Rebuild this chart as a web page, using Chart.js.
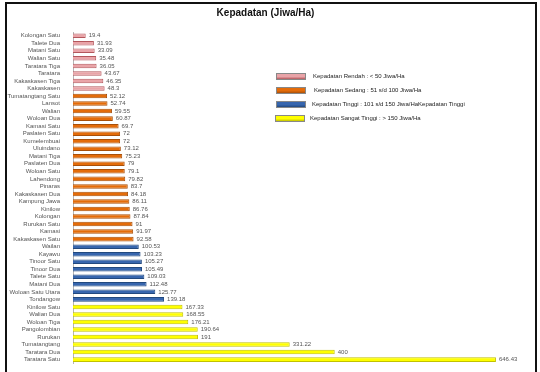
<!DOCTYPE html>
<html>
<head>
<meta charset="utf-8">
<script src="https://cdn.jsdelivr.net/npm/chart.js@4.4.1/dist/chart.umd.min.js"></script>
<style>
  html, body { margin: 0; padding: 0; background: #fff; }
  #wrap { position: relative; width: 540px; height: 372px; overflow: hidden; font-family: "Liberation Sans", Arial, sans-serif; }
  #frame { position: absolute; left: 5px; top: 2px; width: 532px; height: 380px; border: 2px solid #111; box-sizing: border-box; }
  canvas { position: absolute; left: 0; top: 0; }
  .sw { position: absolute; width: 30px; height: 7px; box-sizing: border-box; border: 1px solid #888; }
  .leg { position: absolute; font-size: 6px; color: #222; white-space: nowrap; line-height: 8px; }
</style>
</head>
<body>
<div id="wrap">
  <div id="frame"></div>
  <canvas id="chart" width="540" height="372"></canvas>
  <div id="legend"></div>
</div>
<script>
// Kelurahan names (top to bottom)
const kelurahan = [
  'Kolongan Satu', 'Talete Dua', 'Matani Satu', 'Walian Satu', 'Taratara Tiga',
  'Taratara', 'Kakaskasen Tiga', 'Kakaskasen', 'Tumatangtang Satu', 'Lansot',
  'Walian', 'Woloan Dua', 'Kamasi Satu', 'Paslaten Satu', 'Kumelembuai',
  'Uluindano', 'Matani Tiga', 'Paslaten Dua', 'Woloan Satu', 'Lahendong',
  'Pinaras', 'Kakaskasen Dua', 'Kampung Jawa', 'Kinilow', 'Kolongan',
  'Rurukan Satu', 'Kamasi', 'Kakaskasen Satu', 'Wailan', 'Kayawu',
  'Tinoor Satu', 'Tinoor Dua', 'Talete Satu', 'Matani Dua', 'Woloan Satu Utara',
  'Tondangow', 'Kinilow Satu', 'Walian Dua', 'Woloan Tiga', 'Pangolombian',
  'Rurukan', 'Tumatangtang', 'Taratara Dua', 'Taratara Satu'
];

// Kepadatan (Jiwa/Ha)
const kepadatan = [
  19.4, 31.93, 33.09, 35.48, 36.05,
  43.67, 46.35, 48.3, 52.12, 52.74,
  59.55, 60.87, 69.7, 72, 72,
  73.12, 75.23, 79, 79.1, 79.82,
  83.7, 84.18, 86.11, 86.76, 87.84,
  91, 91.97, 92.58, 100.53, 103.23,
  105.27, 105.49, 109.03, 112.48, 125.77,
  139.18, 167.33, 168.55, 176.21, 190.64,
  191, 331.22, 400, 646.43
];

// density class of each kelurahan (0 rendah, 1 sedang, 2 tinggi, 3 sangat tinggi)
const kelas = [
  0, 0, 0, 0, 0, 0, 0, 0,
  1, 1, 1, 1, 1, 1, 1, 1, 1, 1, 1, 1, 1, 1, 1, 1, 1, 1, 1, 1,
  2, 2, 2, 2, 2, 2, 2, 2,
  3, 3, 3, 3, 3, 3, 3, 3
];

const kelasLabel = [
  'Kepadatan Rendah  :  < 50 Jiwa/Ha',
  'Kepadatan Sedang :  51 s/d 100 Jiwa/Ha',
  'Kepadatan Tinggi  :  101 s/d 150 Jiwa/HaKepadatan Tinggi',
  'Kepadatan Sangat Tinggi : > 150 Jiwa/Ha'
];
const kelasColor = ['#E9A4A8', '#E46C0A', '#3766AE', '#FFFF00'];
const kelasBorder = ['#B4575C', '#A9500A', '#22497F', '#C2C200'];

// legend boxes (drawn as html next to the chart)
const legendBox = document.getElementById('legend');
const legPos = [[276, 73, 313], [276, 87, 314], [276, 101, 312], [275, 115, 310]];
kelasLabel.forEach((txt, i) => {
  const sw = document.createElement('div');
  sw.className = 'sw';
  sw.style.left = legPos[i][0] + 'px';
  sw.style.top = legPos[i][1] + 'px';
  sw.style.background = 'linear-gradient(' + kelasColor[i] + ' 55%, ' + kelasBorder[i] + ')';
  legendBox.appendChild(sw);
  const lb = document.createElement('div');
  lb.className = 'leg';
  lb.style.left = legPos[i][2] + 'px';
  lb.style.top = (legPos[i][1] - 1) + 'px';
  lb.textContent = txt;
  legendBox.appendChild(lb);
});

// value labels at the end of each bar
const valueLabels = {
  id: 'valueLabels',
  afterDatasetsDraw(chart) {
    const ctx = chart.ctx;
    const meta = chart.getDatasetMeta(0);
    ctx.save();
    ctx.font = '6px "Liberation Sans", Arial, sans-serif';
    ctx.fillStyle = '#555';
    ctx.textBaseline = 'middle';
    meta.data.forEach((bar, i) => {
      ctx.fillText(String(kepadatan[i]), bar.x + 3, bar.y);
    });
    ctx.restore();
  }
};

new Chart(document.getElementById('chart'), {
  type: 'bar',
  data: {
    labels: kelurahan,
    datasets: [{
      data: kepadatan,
      backgroundColor: kelas.map(k => kelasColor[k]),
      borderColor: kelas.map(k => kelasBorder[k]),
      borderWidth: 1,
      borderSkipped: 'start',
      barPercentage: 0.6,
      categoryPercentage: 1
    }]
  },
  options: {
    indexAxis: 'y',
    responsive: false,
    animation: false,
    layout: { padding: { left: 0, right: 9, top: 0, bottom: 0 } },
    plugins: {
      legend: { display: false },
      tooltip: { enabled: false },
      title: {
        display: true,
        text: 'Kepadatan (Jiwa/Ha)',
        color: '#111',
        font: { size: 10, weight: 'bold', family: '"Liberation Sans", Arial, sans-serif' },
        padding: { top: 7, bottom: 13 }
      }
    },
    scales: {
      x: { display: false, min: 0, max: 700 },
      y: {
        grid: { display: false },
        border: { color: '#b5b5b5' },
        ticks: {
          autoSkip: false,
          color: '#555',
          padding: 5,
          font: { size: 6, family: '"Liberation Sans", Arial, sans-serif' }
        },
        afterFit(scale) { scale.width = 73; }
      }
    }
  },
  plugins: [valueLabels]
});
</script>
</body>
</html>
